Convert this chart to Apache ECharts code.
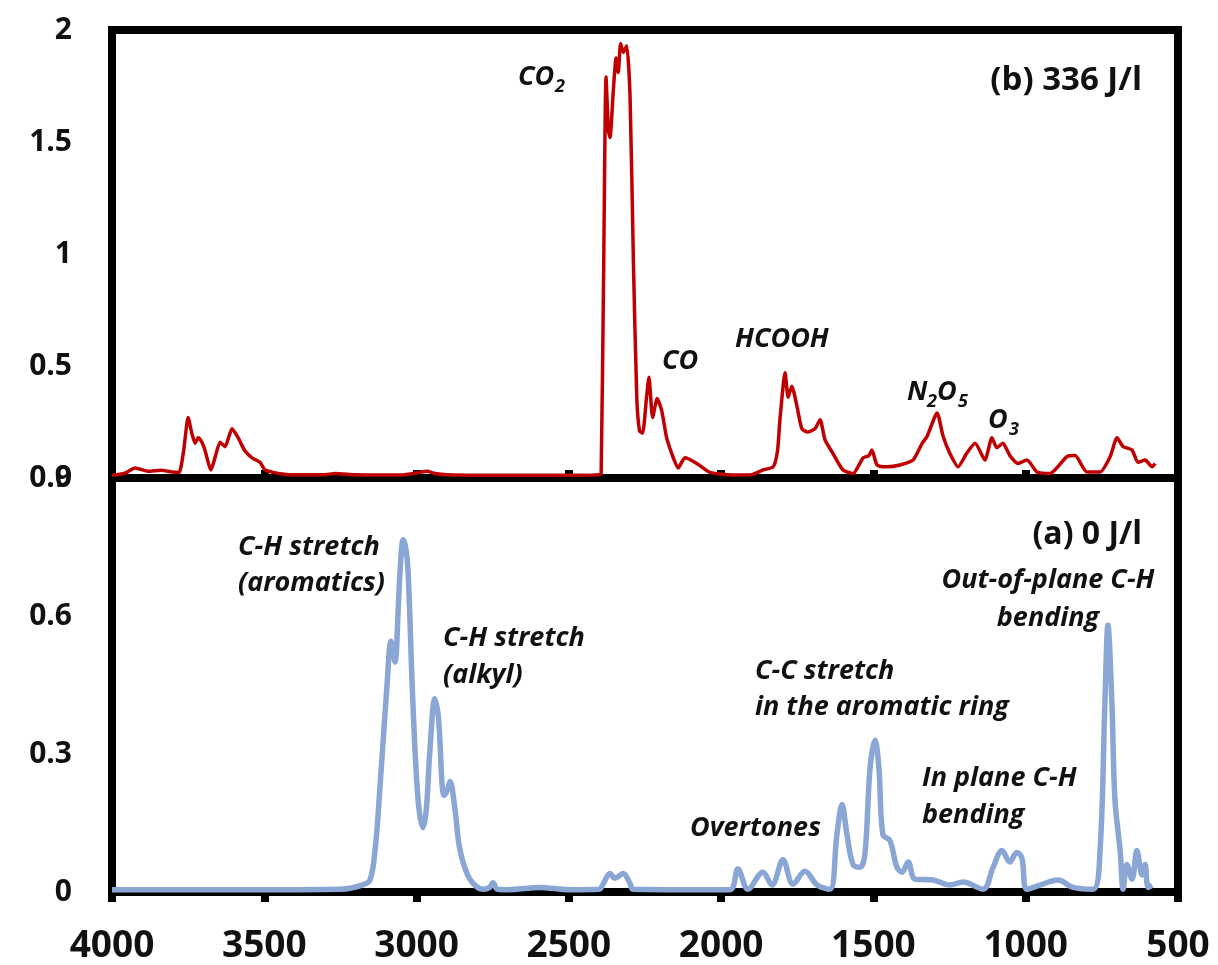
<!DOCTYPE html>
<html>
<head>
<meta charset="utf-8">
<script src="https://cdn.jsdelivr.net/npm/echarts@6/dist/echarts.min.js"></script>
<style>
html,body{margin:0;padding:0;background:#fff;}
#c{width:1218px;height:965px;}
</style>
</head>
<body>
<div id="c"></div>
<script>
// x-axis ticks (wavenumber, cm-1)
const xTicks = [4000, 3500, 3000, 2500, 2000, 1500, 1000, 500];
const yTicksTop = [0, 0.5, 1, 1.5, 2];
const yTicksBottom = [0, 0.3, 0.6, 0.9];

// (b) 336 J/l  -- red spectrum
const redWn = [4000,3960,3924,3880,3840,3803,3780,3765,3750,3738,3727,3717,3705,3695,3675,3660,3645,3629,3615,3606,3586,3575,3563,3540,3514,3498,3470,3440,3400,3300,3268,3200,3100,3040,2990,2966,2940,2900,2800,2700,2600,2500,2420,2400,2394,2386,2378,2370,2365,2354,2345,2338,2330,2321,2310,2299,2288,2277,2268,2258,2245,2237,2225,2210,2195,2179,2157,2141,2119,2080,2037,1982,1940,1900,1862,1829,1815,1807,1790,1780,1768,1751,1735,1715,1692,1675,1659,1633,1600,1567,1534,1515,1505,1488,1456,1413,1370,1340,1324,1291,1271,1249,1222,1194,1166,1134,1111,1095,1075,1052,1025,996,963,920,865,838,799,756,723,700,680,651,631,608,585,575];
const redAbs = [0.012,0.02,0.045,0.03,0.035,0.027,0.025,0.12,0.27,0.2,0.155,0.18,0.16,0.125,0.036,0.1,0.16,0.14,0.19,0.22,0.18,0.15,0.12,0.09,0.07,0.036,0.025,0.018,0.014,0.015,0.02,0.014,0.013,0.015,0.025,0.03,0.02,0.014,0.012,0.012,0.012,0.012,0.013,0.015,0.02,0.9,1.79,1.55,1.52,1.73,1.875,1.81,1.94,1.90,1.93,1.70,0.96,0.36,0.21,0.20,0.36,0.45,0.27,0.355,0.30,0.18,0.09,0.045,0.09,0.065,0.025,0.015,0.013,0.015,0.036,0.05,0.12,0.26,0.47,0.36,0.41,0.32,0.22,0.205,0.22,0.26,0.17,0.11,0.036,0.02,0.09,0.10,0.125,0.058,0.05,0.058,0.08,0.155,0.185,0.29,0.185,0.11,0.05,0.11,0.155,0.08,0.18,0.135,0.155,0.10,0.065,0.08,0.027,0.02,0.095,0.10,0.027,0.027,0.095,0.18,0.14,0.125,0.07,0.08,0.05,0.065];

// (a) 0 J/l -- blue spectrum
const blueWn = [4000,3500,3250,3218,3180,3153,3135,3120,3097,3084,3071,3060,3054,3044,3036,3028,3012,2995,2979,2968,2956,2940,2930,2926,2910,2900,2890,2874,2857,2825,2781,2760,2749,2735,2700,2595,2500,2400,2388,2365,2349,2322,2300,2289,2100,1971,1945,1912,1863,1833,1797,1764,1725,1685,1643,1620,1603,1587,1567,1544,1528,1511,1495,1482,1469,1446,1423,1406,1386,1363,1304,1249,1206,1140,1107,1078,1052,1030,1013,996,953,894,845,779,756,740,730,717,707,690,680,668,651,635,618,608,598,585];
const blueAbs = [0.005,0.005,0.006,0.008,0.015,0.026,0.1,0.23,0.45,0.545,0.50,0.62,0.70,0.766,0.75,0.70,0.41,0.20,0.14,0.18,0.31,0.42,0.39,0.36,0.21,0.22,0.24,0.18,0.09,0.028,0.006,0.01,0.02,0.006,0.005,0.01,0.005,0.006,0.017,0.04,0.03,0.04,0.02,0.006,0.005,0.005,0.05,0.006,0.043,0.015,0.07,0.017,0.045,0.015,0.006,0.125,0.19,0.125,0.06,0.054,0.082,0.27,0.33,0.27,0.125,0.112,0.054,0.043,0.065,0.028,0.026,0.015,0.022,0.006,0.054,0.09,0.065,0.086,0.075,0.006,0.015,0.026,0.01,0.006,0.09,0.41,0.58,0.41,0.20,0.09,0.006,0.06,0.028,0.09,0.037,0.06,0.01,0.015];

const FONT = 'Open Sans';
const redData = redWn.map((w, i) => [w, redAbs[i]]);
const blueData = blueWn.map((w, i) => [w, blueAbs[i]]);

function ann(text, x, y, size, align, italic) {
  return {type: 'text', x: x, y: y, z: 100,
    style: {text: text, fontSize: size, fontWeight: 'bold', fontStyle: italic === false ? 'normal' : 'italic',
      fontFamily: FONT, fill: '#111', align: align || 'left', verticalAlign: 'middle'}};
}

const chart = echarts.init(document.getElementById('c'), null, {renderer: 'canvas'});
const xCommon = {type: 'value', inverse: true, min: 500, max: 4000, interval: 500,
  splitLine: {show: false}, axisLine: {show: false}};
chart.setOption({
  backgroundColor: '#fff',
  animation: false,
  grid: [
    {left: 112, right: 40, top: 30, height: 448, show: true, borderColor: '#000', borderWidth: 8},
    {left: 112, right: 40, top: 478, height: 417, show: true, borderColor: '#000', borderWidth: 8}
  ],
  xAxis: [
    Object.assign({gridIndex: 0, axisLabel: {show: false},
      axisTick: {show: true, inside: true, length: 8, lineStyle: {color: '#000', width: 8}}}, xCommon),
    Object.assign({gridIndex: 1,
      axisLabel: {show: true, margin: 36, fontSize: 37, fontWeight: 'bold', fontFamily: FONT, color: '#111',
        formatter: v => String(v)},
      axisTick: {show: true, inside: false, length: 10, lineStyle: {color: '#000', width: 8}}}, xCommon)
  ],
  yAxis: [
    {type: 'value', gridIndex: 0, min: 0, max: 2, interval: 0.5, splitLine: {show: false},
      axisLine: {show: false}, axisTick: {show: false},
      axisLabel: {margin: 40, fontSize: 30, fontWeight: 'bold', fontFamily: FONT, color: '#111'}},
    {type: 'value', gridIndex: 1, min: 0, max: 0.9, interval: 0.3, splitLine: {show: false},
      axisLine: {show: false}, axisTick: {show: false},
      axisLabel: {margin: 40, fontSize: 30, fontWeight: 'bold', fontFamily: FONT, color: '#111'}}
  ],
  series: [
    {type: 'line', xAxisIndex: 0, yAxisIndex: 0, data: redData, showSymbol: false, smooth: 0.2,
      lineStyle: {color: '#c00000', width: 3.5}, z: 5},
    {type: 'line', xAxisIndex: 1, yAxisIndex: 1, data: blueData, showSymbol: false, smooth: 0.35,
      lineStyle: {color: '#8aa6d4', width: 5.5}, z: 5}
  ],
  graphic: [
    ann('(b) 336 J/l', 1142, 81, 33, 'right', false),
    ann('(a) 0 J/l', 1142, 535, 32, 'right', false),
    ann('CO', 518, 77, 27, 'left'),
    ann('2', 555, 87, 18, 'left'),
    ann('CO', 662, 361, 27, 'left'),
    ann('HCOOH', 735, 339, 27, 'left'),
    ann('N', 907, 392, 27, 'left'),
    ann('2', 927, 402, 18, 'left'),
    ann('O', 937, 392, 27, 'left'),
    ann('5', 958, 402, 18, 'left'),
    ann('O', 988, 420, 27, 'left'),
    ann('3', 1009, 430, 18, 'left'),
    ann('C-H stretch', 238, 547, 27, 'left'),
    ann('(aromatics)', 238, 583, 27, 'left'),
    ann('C-H stretch', 443, 638, 27, 'left'),
    ann('(alkyl)', 443, 675, 27, 'left'),
    ann('C-C stretch', 755, 671, 27, 'left'),
    ann('in the aromatic ring', 755, 707, 27, 'left'),
    ann('Overtones', 690, 828, 27, 'left'),
    ann('In plane C-H', 922, 778, 27, 'left'),
    ann('bending', 922, 815, 27, 'left'),
    ann('Out-of-plane C-H', 1048, 580, 27, 'center'),
    ann('bending', 1048, 618, 27, 'center')
  ]
});
</script>
</body>
</html>
